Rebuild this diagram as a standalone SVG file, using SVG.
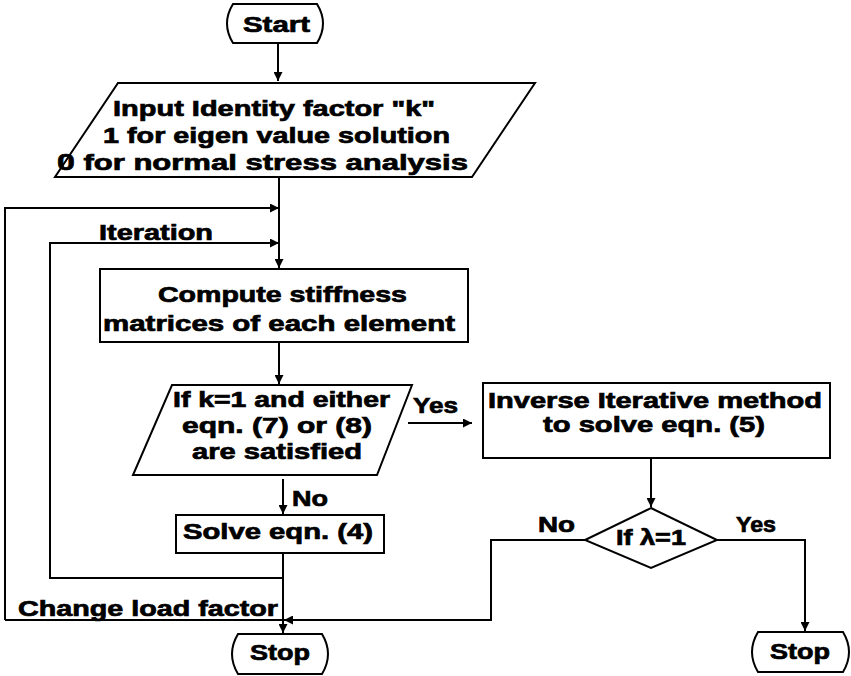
<svg xmlns="http://www.w3.org/2000/svg" width="851" height="676" viewBox="0 0 851 676">
<style>
.s{fill:#fff;stroke:#000;stroke-width:2}
.c{fill:none;stroke:#000;stroke-width:2}
text{font-family:"Liberation Sans",Arial,sans-serif;font-weight:bold;font-size:22px;fill:#000;stroke:#000;stroke-width:0.7}
.z{font-family:Roboto,"Open Sans",sans-serif}
</style>
<defs>
<marker id="ah" viewBox="0 0 10 10" markerWidth="10" markerHeight="9" refX="10" refY="5" orient="auto" markerUnits="userSpaceOnUse">
<path d="M0,0 L10,5 L0,10 z" fill="#000"/>
</marker>
</defs>
<rect width="851" height="676" fill="#fff"/>
<g id="connectors">
<path class="c" d="M278,43 V81" marker-end="url(#ah)"/>
<path class="c" d="M279,177 V268" marker-end="url(#ah)"/>
<path class="c" d="M5,620 V208 H279" marker-end="url(#ah)"/>
<path class="c" d="M283,578 H50 V243 H279" marker-end="url(#ah)"/>
<path class="c" d="M279,342 V384" marker-end="url(#ah)"/>
<path class="c" d="M283,479 V514" marker-end="url(#ah)"/>
<path class="c" d="M408,423 H472" marker-end="url(#ah)"/>
<path class="c" d="M283,553 V633" marker-end="url(#ah)"/>
<path class="c" d="M5,620 H283"/>
<path class="c" d="M651,458 V507" marker-end="url(#ah)"/>
<path class="c" d="M585,540 H491 V620 H284" marker-end="url(#ah)"/>
<path class="c" d="M717,540 H805 V631" marker-end="url(#ah)"/>
<text x="99" y="240" textLength="114" lengthAdjust="spacingAndGlyphs">Iteration</text>
<text x="413" y="413" textLength="45" lengthAdjust="spacingAndGlyphs">Yes</text>
<text x="292" y="506" textLength="36" lengthAdjust="spacingAndGlyphs">No</text>
<text x="18" y="616" textLength="260" lengthAdjust="spacingAndGlyphs">Change load factor</text>
<text x="538" y="532" textLength="37" lengthAdjust="spacingAndGlyphs">No</text>
<text x="736" y="532" textLength="40" lengthAdjust="spacingAndGlyphs">Yes</text>
</g>
<g id="start">
<path class="s" d="M233,4 H317 Q329,23.5 317,43 H233 Q221,23.5 233,4 Z"/>
<text x="243" y="32" textLength="67" lengthAdjust="spacingAndGlyphs">Start</text>
</g>
<g id="input">
<path class="s" d="M118,83 H535 L472,177 H55 Z"/>
<text x="113" y="116" textLength="322" lengthAdjust="spacingAndGlyphs">Input Identity factor "k"</text>
<text x="103" y="143" textLength="347" lengthAdjust="spacingAndGlyphs">1 for eigen value solution</text>
<text x="57" y="170" textLength="411" lengthAdjust="spacingAndGlyphs"><tspan class="z">0</tspan> for normal stress analysis</text>
</g>
<g id="compute">
<rect class="s" x="100" y="269" width="368" height="73"/>
<text x="158" y="302" textLength="249" lengthAdjust="spacingAndGlyphs">Compute stiffness</text>
<text x="103" y="331" textLength="352" lengthAdjust="spacingAndGlyphs">matrices of each element</text>
</g>
<g id="decision">
<path class="s" d="M172,385 H412 L377,475 H133 Z"/>
<text x="173" y="407" textLength="217" lengthAdjust="spacingAndGlyphs">If k=1 and either</text>
<text x="182" y="433" textLength="190" lengthAdjust="spacingAndGlyphs">eqn. (7) or (8)</text>
<text x="192" y="459" textLength="170" lengthAdjust="spacingAndGlyphs">are satisfied</text>
</g>
<g id="solve">
<rect class="s" x="176" y="515" width="208" height="38"/>
<text x="183" y="539" textLength="190" lengthAdjust="spacingAndGlyphs">Solve eqn. (4)</text>
</g>
<g id="inverse">
<rect class="s" x="483" y="383" width="347" height="75"/>
<text x="488" y="408" textLength="334" lengthAdjust="spacingAndGlyphs">Inverse Iterative method</text>
<text x="543" y="432" textLength="222" lengthAdjust="spacingAndGlyphs">to solve eqn. (5)</text>
</g>
<g id="lambda">
<path class="s" d="M651,508 L717,540 L651,568 L585,540 Z"/>
<text x="616" y="545" textLength="70" lengthAdjust="spacingAndGlyphs">If λ=1</text>
</g>
<g id="stop1">
<path class="s" d="M238,634 H322 Q334,654 322,674 H238 Q226,654 238,634 Z"/>
<text x="250" y="660" textLength="60" lengthAdjust="spacingAndGlyphs">Stop</text>
</g>
<g id="stop2">
<path class="s" d="M758,632 H843 Q855,652 843,672 H758 Q746,652 758,632 Z"/>
<text x="770" y="659" textLength="60" lengthAdjust="spacingAndGlyphs">Stop</text>
</g>
</svg>
